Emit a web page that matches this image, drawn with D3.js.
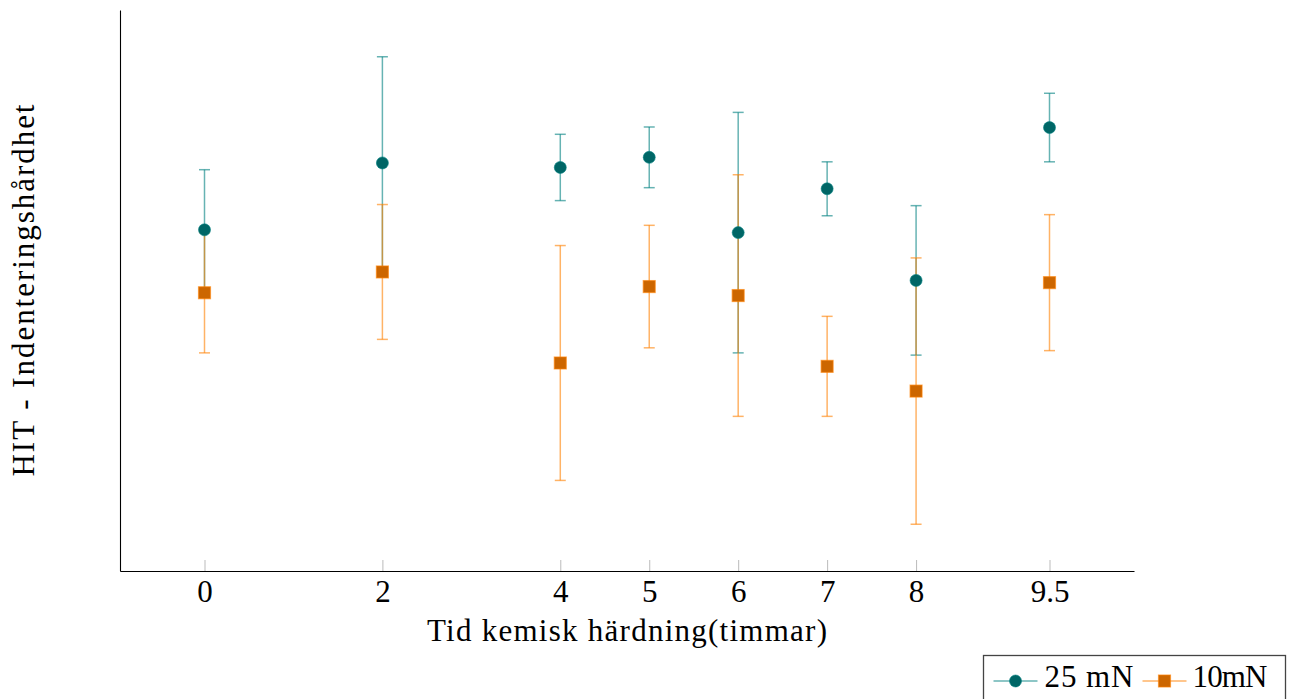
<!DOCTYPE html>
<html>
<head>
<meta charset="utf-8">
<script src="https://cdn.jsdelivr.net/npm/d3@7"></script>
<style>
  body { margin: 0; background: #fff; }
  text { font-family: 'Liberation Serif', 'Times New Roman', serif; fill: #000; }
</style>
</head>
<body>
<div id="chart"></div>
<script>
// hours of chemical hardening, mean HIT and half error bar per load
const hours = [0, 2, 4, 5, 6, 7, 8, 9.5]
const hit25 = [60.7, 72.6, 71.8, 73.6, 60.2, 68.0, 51.7, 78.9]
const err25 = [10.7, 18.9, 5.9, 5.4, 21.4, 4.8, 13.3, 6.1]
const hit10 = [49.5, 53.2, 37.0, 50.6, 49.0, 36.4, 32.0, 51.3]
const err10 = [10.7, 12.0, 20.9, 10.9, 21.5, 8.9, 23.7, 12.1]
const seriesNames = ['25 mN', '10mN']

const margin = { top: 10, left: 120, right: 160, bottom: 128 }
const width = 1294 - margin.left - margin.right
const height = 699 - margin.top - margin.bottom

const teal = 'rgb(0,128,128)'
const tealDark = 'rgb(0,102,102)'
const orange = 'rgb(255,128,0)'
const orangeDark = 'rgb(204,102,0)'

const svg = d3
  .select('#chart')
  .append('svg')
  .attr('width', 1294)
  .attr('height', 699)
  .append('g')
  .attr('transform', 'translate(' + margin.left + ',' + margin.top + ')')

const toRows = (vals, errs) => hours.map((h, i) => ({ x: h, y: vals[i], e: errs[i] }))
const series = [
  { name: seriesNames[0], rows: toRows(hit25, err25), line: teal, fill: tealDark, shape: 'circle' },
  { name: seriesNames[1], rows: toRows(hit10, err10), line: orange, fill: orangeDark, shape: 'square' }
]

// pgfplots style: enlarge the limits by 10% of the data range
const xExt = d3.extent(hours)
const xPad = (xExt[1] - xExt[0]) * 0.1
const xScale = d3
  .scaleLinear()
  .domain([xExt[0] - xPad, xExt[1] + xPad])
  .range([0, width])

const allY = []
series.forEach(s => s.rows.forEach(d => { allY.push(d.y - d.e); allY.push(d.y + d.e) }))
const yExt = d3.extent(allY)
const yPad = (yExt[1] - yExt[0]) * 0.1
const yScale = d3
  .scaleLinear()
  .domain([yExt[0] - yPad, yExt[1] + yPad])
  .range([height, 0])

// axes
const xAxis = d3
  .axisBottom(xScale)
  .tickValues(hours)
  .tickFormat(d3.format('~g'))
  .tickSizeInner(-11)
  .tickSizeOuter(0)

const gx = svg
  .append('g')
  .attr('class', 'x-axis')
  .attr('transform', 'translate(0,' + height + ')')
  .call(xAxis)
gx.select('.domain').attr('stroke', '#000').attr('stroke-width', 1.1)
gx.selectAll('.tick line').attr('stroke', '#bbb').attr('stroke-width', 1)
gx.selectAll('.tick text')
  .attr('y', 31)
  .attr('dy', null)
  .style('font-size', '31px')
  .style('font-family', "'Liberation Serif', serif")

const gy = svg
  .append('g')
  .attr('class', 'y-axis')
  .call(d3.axisLeft(yScale).tickValues([]).tickSizeOuter(0))
gy.select('.domain').attr('stroke', '#000').attr('stroke-width', 1.1)

// axis labels
svg
  .append('text')
  .text('Tid kemisk härdning(timmar)')
  .attr('x', width / 2)
  .attr('y', height + 70)
  .attr('text-anchor', 'middle')
  .attr('textLength', 400)
  .attr('lengthAdjust', 'spacing')
  .style('font-size', '31px')

svg
  .append('text')
  .text('HIT - Indenteringshårdhet')
  .attr('transform', 'translate(' + (34 - margin.left) + ',' + height / 2 + ') rotate(-90)')
  .attr('text-anchor', 'middle')
  .attr('textLength', 372)
  .attr('lengthAdjust', 'spacing')
  .style('font-size', '31px')

function drawMarker(g, s) {
  if (s.shape === 'circle') {
    g.append('circle')
      .attr('r', 6)
      .attr('fill', s.fill)
      .attr('stroke', s.line)
      .attr('stroke-opacity', 0.6)
      .attr('stroke-width', 1)
  } else {
    g.append('rect')
      .attr('x', -6)
      .attr('y', -6)
      .attr('width', 12)
      .attr('height', 12)
      .attr('fill', s.fill)
      .attr('stroke', s.line)
      .attr('stroke-opacity', 0.6)
      .attr('stroke-width', 1.2)
  }
}

// error bars and markers, teal first so the orange sits on top
series.forEach(s => {
  const g = svg.append('g').attr('class', 'series')
  const bars = g
    .selectAll('.bar')
    .data(s.rows)
    .enter()
    .append('g')
    .attr('class', 'bar')
    .attr('stroke', s.line)
    .attr('stroke-opacity', 0.6)
    .attr('stroke-width', 1.5)

  bars.append('line')
    .attr('x1', d => xScale(d.x))
    .attr('x2', d => xScale(d.x))
    .attr('y1', d => yScale(d.y - d.e))
    .attr('y2', d => yScale(d.y + d.e))
  bars.append('line')
    .attr('x1', d => xScale(d.x) - 5.5)
    .attr('x2', d => xScale(d.x) + 5.5)
    .attr('y1', d => yScale(d.y + d.e))
    .attr('y2', d => yScale(d.y + d.e))
  bars.append('line')
    .attr('x1', d => xScale(d.x) - 5.5)
    .attr('x2', d => xScale(d.x) + 5.5)
    .attr('y1', d => yScale(d.y - d.e))
    .attr('y2', d => yScale(d.y - d.e))
})

series.forEach(s => {
  svg
    .append('g')
    .selectAll('.marker')
    .data(s.rows)
    .enter()
    .append('g')
    .attr('class', 'marker')
    .attr('transform', d => 'translate(' + xScale(d.x) + ',' + yScale(d.y) + ')')
    .each(function() { drawMarker(d3.select(this), s) })
})

// legend
const legend = svg
  .append('g')
  .attr('transform', 'translate(' + (983.5 - margin.left) + ',' + (655.5 - margin.top) + ')')

legend
  .append('rect')
  .attr('width', 302)
  .attr('height', 70)
  .attr('fill', '#fff')
  .attr('stroke', '#444')
  .attr('stroke-width', 1.3)

const legendX = [{ line: 10, text: 61, len: 89 }, { line: 159, text: 209, len: 75 }]
series.forEach((s, i) => {
  const item = legend.append('g').attr('transform', 'translate(' + legendX[i].line + ',25.5)')
  item.append('line')
    .attr('x1', 0)
    .attr('x2', 44)
    .attr('stroke', s.line)
    .attr('stroke-opacity', 0.6)
    .attr('stroke-width', 1.5)
  const m = item.append('g').attr('transform', 'translate(22,0)')
  drawMarker(m, s)
  legend.append('text')
    .text(s.name)
    .attr('x', legendX[i].text)
    .attr('y', 31.5)
    .attr('textLength', legendX[i].len)
    .attr('lengthAdjust', 'spacing')
    .style('font-size', '31px')
})
</script>
</body>
</html>
